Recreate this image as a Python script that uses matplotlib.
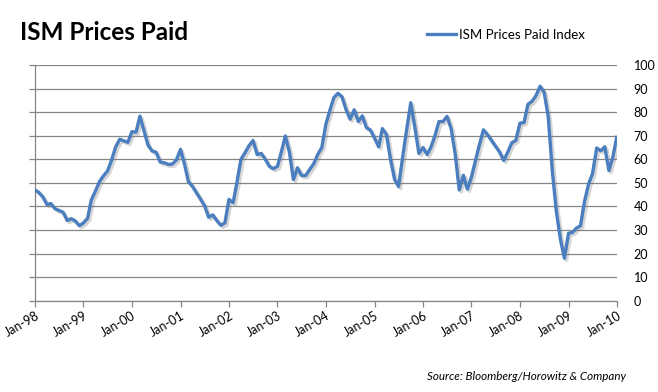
import matplotlib
matplotlib.use("Agg")
import matplotlib.pyplot as plt
import matplotlib.dates as mdates
import matplotlib.patheffects as pe
import pandas as pd

plt.rcParams['font.family'] = ['Lato', 'DejaVu Sans']

title = "ISM Prices Paid"
series_name = "ISM Prices Paid Index"
source = "Source: Bloomberg/Horowitz & Company"

start_month = "1998-01-01"
values = [
    # 1998
    47, 45.8, 44, 40.8, 41.2, 39, 38.3, 37.5, 34, 34.8, 33.8, 31.8,
    # 1999
    33, 35, 42.7, 46.5, 50.5, 53, 55, 59.7, 65.3, 68.5, 67.8, 67.2,
    # 2000
    71.7, 71.5, 78.3, 72, 66, 63.5, 63, 58.8, 58.5, 57.8, 58, 59.7,
    # 2001
    64.2, 57.7, 50.5, 48.5, 45.8, 43, 40.3, 35.4, 36.4, 34, 32, 33,
    # 2002
    43, 41.6, 50, 60, 62.7, 65.8, 68, 62, 62.5, 60, 57, 56,
    # 2003
    57, 63.5, 69.9, 63, 51.4, 56.4, 53.1, 53.1, 55.7, 58.1, 62.1, 65,
    # 2004
    75, 81, 86.2, 88, 86.5, 81, 77, 81, 76, 78.4, 73.4, 72.4,
    # 2005
    69, 65.3, 73, 70.5, 60, 51.5, 48.4, 61, 73, 84, 73.5, 62.5,
    # 2006
    65, 62, 65, 70, 76, 76, 78.2, 73, 62, 47, 53.2, 47.3,
    # 2007
    52.5, 59.5, 66, 72.5, 70.5, 68, 65.5, 63, 59.5, 63, 67, 68,
    # 2008
    75.3, 75.6, 83.3, 84.6, 87, 91, 88.5, 78, 55, 38, 26, 18,
    # 2009
    28.6, 29, 30.8, 31.8, 42, 49.5, 54, 64.8, 63.6, 65.3, 55.2, 61,
    # 2010
    70,
]
y_ticks = [0, 10, 20, 30, 40, 50, 60, 70, 80, 90, 100]

dates = pd.date_range(start_month, periods=len(values), freq="MS")

W, H = 658, 392
fig = plt.figure(figsize=(W / 100, H / 100), dpi=100)
fig.patch.set_facecolor("white")

L, R, T, B = 35, 617, 65, 300.7
ax = fig.add_axes([L / W, 1 - B / H, (R - L) / W, (B - T) / H])

line_color = "#4A7EBF"
grid_color = "#868686"

ax.plot(dates, values, color=line_color, lw=2.4, solid_joinstyle="round",
        solid_capstyle="butt", zorder=3,
        path_effects=[pe.SimpleLineShadow(offset=(1.5, -1.5), shadow_color="#777777", alpha=0.3),
                      pe.Normal()])

ax.set_ylim(0, 100)
ax.set_xlim(pd.Timestamp("1998-01-01"), pd.Timestamp("2010-01-01"))
ax.set_yticks(y_ticks)
ax.yaxis.grid(True, color=grid_color, lw=0.9)
ax.set_axisbelow(True)

ax.xaxis.set_major_locator(mdates.YearLocator())
ax.xaxis.set_major_formatter(mdates.DateFormatter("%b-%y"))

for s in ["top", "right"]:
    ax.spines[s].set_visible(False)
for s in ["left", "bottom"]:
    ax.spines[s].set_color(grid_color)
    ax.spines[s].set_linewidth(0.9)

ax.tick_params(axis="y", left=True, right=False, labelleft=False, labelright=True,
               length=4, width=0.9, color=grid_color, pad=8, labelsize=9)
ax.tick_params(axis="x", length=4, width=0.9, color=grid_color, pad=2, labelsize=9)
for lab in ax.get_xticklabels():
    lab.set_rotation(30)
    lab.set_ha("right")
    lab.set_rotation_mode("anchor")

fig.text(20 / W, 1 - 40 / H, title, fontsize=17.5, fontweight="bold", ha="left", va="baseline")

# legend
ax.legend([plt.Line2D([], [], color=line_color, lw=2.4)], [series_name],
          loc="center left", bbox_to_anchor=(427 / W, 1 - 35 / H),
          bbox_transform=fig.transFigure, frameon=False, fontsize=9.5,
          handlelength=2.2, handletextpad=0.2, borderpad=0, borderaxespad=0)

fig.text(626 / W, 1 - 376 / H, source, fontsize=8.4, style="italic", ha="right", va="center")

fig.savefig("out.png", dpi=100, facecolor="white")
